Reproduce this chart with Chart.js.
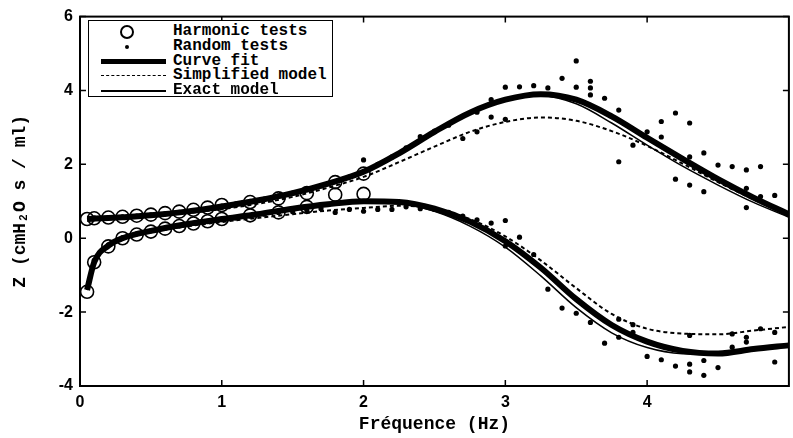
<!DOCTYPE html>
<html>
<head>
<meta charset="utf-8">
<script src="https://cdn.jsdelivr.net/npm/chart.js@4.4.1/dist/chart.umd.min.js"></script>
<style>
  html, body { margin: 0; padding: 0; overflow: hidden; background: #fff; }
  .wrap { position: relative; width: 797px; height: 438px; }
  .legend {
    position: absolute; left: 88px; top: 20px; width: 243px; height: 75px;
    border: 1.5px solid #000; background: #fff;
    font: bold 16px 'Liberation Mono', 'DejaVu Sans Mono', monospace; color: #000;
  }
  .legend .row { position: absolute; left: 0; width: 100%; height: 15px; line-height: 15px; }
  .legend .txt { position: absolute; left: 84px; top: 0; white-space: pre; }
  .legend .sym { position: absolute; }
</style>
</head>
<body>
<div class="wrap">
  <canvas id="myChart" width="797" height="438"></canvas>
  <div class="legend" id="legend"></div>
</div>
<script>
// axis ticks
var xTicks = [0, 1, 2, 3, 4];
var yTicks = [-4, -2, 0, 2, 4, 6];

// model curves
var modelX      = [0.05, 0.1, 0.2, 0.3, 0.5, 0.75, 1, 1.25, 1.5, 1.75, 2, 2.25, 2.5, 2.75, 3, 3.25, 3.5, 3.75, 4, 4.25, 4.5, 4.75, 5];
var fitUpper    = [0.52, 0.53, 0.55, 0.57, 0.62, 0.72, 0.86, 1.02, 1.22, 1.48, 1.8, 2.3, 2.88, 3.4, 3.75, 3.9, 3.75, 3.3, 2.72, 2.15, 1.6, 1.1, 0.65];
var simpUpper   = [0.52, 0.53, 0.54, 0.56, 0.6, 0.68, 0.79, 0.93, 1.12, 1.37, 1.66, 2.06, 2.48, 2.88, 3.15, 3.27, 3.18, 2.9, 2.5, 2.02, 1.52, 1.05, 0.62];
var exactUpper  = [0.52, 0.53, 0.55, 0.57, 0.62, 0.71, 0.85, 1.01, 1.2, 1.46, 1.77, 2.27, 2.84, 3.36, 3.72, 3.86, 3.64, 3.12, 2.52, 1.95, 1.44, 0.97, 0.57];
var fitLower    = [-1.4, -0.65, -0.2, 0.0, 0.2, 0.38, 0.52, 0.65, 0.8, 0.92, 1.0, 0.98, 0.8, 0.45, -0.08, -0.8, -1.65, -2.35, -2.8, -3.05, -3.12, -3.0, -2.9];
var simpLower   = [-1.4, -0.66, -0.22, -0.02, 0.17, 0.32, 0.44, 0.55, 0.65, 0.75, 0.82, 0.88, 0.8, 0.52, 0.05, -0.6, -1.35, -2.05, -2.45, -2.58, -2.6, -2.5, -2.4];
var exactLower  = [-1.4, -0.65, -0.2, 0.0, 0.2, 0.37, 0.51, 0.64, 0.79, 0.91, 0.99, 0.95, 0.73, 0.33, -0.24, -1.02, -1.88, -2.56, -2.96, -3.13, -3.15, -3.02, -2.91];

// harmonic tests (circles)
var harmX     = [0.05, 0.1, 0.2, 0.3, 0.4, 0.5, 0.6, 0.7, 0.8, 0.9, 1.0, 1.2, 1.4, 1.6, 1.8, 2.0];
var harmUpper = [0.52, 0.54, 0.56, 0.58, 0.61, 0.64, 0.68, 0.72, 0.77, 0.83, 0.9, 0.98, 1.08, 1.22, 1.52, 1.75];
var harmLower = [-1.45, -0.65, -0.22, 0.0, 0.1, 0.18, 0.26, 0.33, 0.4, 0.46, 0.52, 0.62, 0.7, 0.85, 1.18, 1.2];

// random tests (dots)
var randomX = [0.1, 0.2, 0.3, 0.4, 0.5, 0.6, 0.7, 0.8, 0.9, 1.0, 1.1, 1.2, 1.3, 1.4, 1.5, 1.6, 1.7, 2.0, 1.9, 2.1, 2.2, 2.3, 2.4, 2.5, 2.6, 2.7, 2.8, 2.8, 2.9, 2.9,
  3.0, 3.0, 3.1, 3.2, 3.3, 3.4, 3.5, 3.5, 3.6, 3.6, 3.6, 3.7, 3.8, 3.8, 3.9, 4.0, 4.1, 4.1, 4.2, 4.2, 4.3, 4.3, 4.3, 4.4, 4.4, 4.5, 4.6, 4.7, 4.7, 4.7, 4.8, 4.8, 4.9,
  0.1, 0.2, 0.3, 0.4, 0.5, 0.6, 0.7, 0.8, 0.9, 1.0, 1.1, 1.2, 1.3, 1.4, 1.5, 1.6, 1.7, 1.8, 1.9, 2.0, 2.1, 2.2, 2.3, 2.4, 2.5, 2.6, 2.7, 2.8, 2.9,
  3.0, 3.0, 3.1, 3.2, 3.3, 3.4, 3.5, 3.6, 3.7, 3.8, 3.8, 3.9, 3.9, 4.0, 4.1, 4.2, 4.3, 4.3, 4.3, 4.4, 4.4, 4.5, 4.6, 4.6, 4.7, 4.7, 4.8, 4.9, 4.9];
var randomY = [0.55, 0.56, 0.58, 0.6, 0.63, 0.66, 0.7, 0.75, 0.8, 0.87, 0.93, 1.0, 1.06, 1.15, 1.22, 1.32, 1.42, 2.12, 1.66, 2.0, 2.2, 2.45, 2.75, 2.9, 3.06, 2.7, 3.41, 2.88, 3.75, 3.28,
  4.09, 3.22, 4.1, 4.13, 4.07, 4.33, 4.8, 4.09, 4.25, 4.07, 3.88, 3.79, 3.47, 2.07, 2.52, 2.88, 3.16, 2.74, 3.39, 1.6, 3.12, 2.2, 1.44, 2.31, 1.26, 1.98, 1.94, 1.85, 1.35, 0.83, 1.94, 1.13, 1.16,
  -0.6, -0.18, 0.02, 0.12, 0.2, 0.27, 0.33, 0.4, 0.45, 0.5, 0.55, 0.6, 0.65, 0.7, 0.72, 0.75, 0.8, 0.7, 0.78, 0.73, 0.78, 0.78, 0.85, 0.8, 0.78, 0.7, 0.6, 0.5, 0.41,
  0.48, -0.21, 0.03, -0.44, -1.38, -1.89, -2.03, -2.28, -2.84, -2.19, -2.68, -2.34, -2.55, -3.2, -3.29, -3.46, -3.41, -3.62, -2.63, -3.31, -3.71, -3.5, -2.59, -2.95, -2.68, -2.81, -2.45, -2.55, -3.35];

function pts(xs, ys) {
    return xs.map(function (x, i) { return { x: x, y: ys[i] }; });
}

var monoFont = "'Liberation Mono', 'DejaVu Sans Mono', monospace";
var sansFont = "'Liberation Sans', Arial, sans-serif";

// box + inward tick marks, matlab style
var frame = {
    id: 'frame',
    afterDraw: function (chart) {
        var ctx = chart.ctx, a = chart.chartArea;
        var xs = chart.scales.x, ys = chart.scales.y;
        ctx.save();
        ctx.strokeStyle = '#000';
        ctx.lineWidth = 2;
        ctx.strokeRect(a.left, a.top, a.right - a.left, a.bottom - a.top);
        ctx.lineWidth = 1.5;
        ctx.beginPath();
        xTicks.forEach(function (v) {
            var p = xs.getPixelForValue(v);
            ctx.moveTo(p, a.bottom); ctx.lineTo(p, a.bottom - 6);
            ctx.moveTo(p, a.top); ctx.lineTo(p, a.top + 6);
        });
        yTicks.forEach(function (v) {
            var p = ys.getPixelForValue(v);
            ctx.moveTo(a.left, p); ctx.lineTo(a.left + 6, p);
            ctx.moveTo(a.right, p); ctx.lineTo(a.right - 6, p);
        });
        ctx.stroke();
        ctx.restore();
    }
};

function lineSet(label, ys, width, dash) {
    return {
        label: label,
        data: pts(modelX, ys),
        showLine: true,
        borderColor: '#000',
        borderWidth: width,
        borderDash: dash || [],
        pointRadius: 0,
        cubicInterpolationMode: 'monotone',
        fill: false
    };
}

var ctx = document.getElementById('myChart');

var myChart = new Chart(ctx, {
    type: 'scatter',
    data: {
        datasets: [
            {
                label: 'Harmonic tests',
                data: pts(harmX, harmUpper).concat(pts(harmX, harmLower)),
                pointStyle: 'circle',
                pointRadius: 6.5,
                borderWidth: 1.6,
                borderColor: '#000',
                backgroundColor: 'rgba(0,0,0,0)'
            },
            {
                label: 'Random tests',
                data: pts(randomX, randomY),
                pointRadius: 2.6,
                borderWidth: 0,
                backgroundColor: '#000'
            },
            lineSet('Exact model', exactUpper, 1.5),
            lineSet('Exact model', exactLower, 1.5),
            lineSet('Simplified model', simpUpper, 2, [4, 3]),
            lineSet('Simplified model', simpLower, 2, [4, 3]),
            lineSet('Curve fit', fitUpper, 6),
            lineSet('Curve fit', fitLower, 6)
        ]
    },
    options: {
        responsive: false,
        animation: false,
        devicePixelRatio: 1,
        layout: { padding: { left: 0, top: 14, right: 2, bottom: 0 } },
        plugins: { legend: { display: false }, tooltip: { enabled: false } },
        scales: {
            x: {
                type: 'linear', min: 0, max: 5,
                afterBuildTicks: function (s) { s.ticks = xTicks.map(function (v) { return { value: v }; }); },
                afterFit: function (s) { s.height = 52; },
                grid: { display: false, drawTicks: false },
                border: { display: false },
                ticks: { color: '#000', padding: 7, font: { family: sansFont, size: 16, weight: 'bold' } },
                title: { display: true, text: 'Fréquence (Hz)', color: '#000', padding: { top: 0, bottom: 3 },
                         font: { family: monoFont, size: 18, weight: 'bold' } }
            },
            y: {
                type: 'linear', min: -4, max: 6,
                afterBuildTicks: function (s) { s.ticks = yTicks.map(function (v) { return { value: v }; }); },
                afterFit: function (s) { s.width = 80; },
                grid: { display: false, drawTicks: false },
                border: { display: false },
                ticks: { color: '#000', padding: 7, font: { family: sansFont, size: 16, weight: 'bold' } },
                title: { display: true, text: 'Z (cmH\u2082O s / ml)', color: '#000', padding: { top: 10, bottom: 0 },
                         font: { family: monoFont, size: 18, weight: 'bold' } }
            }
        }
    },
    plugins: [frame]
});

// legend box inside the plot, like the original figure
var legendItems = [
    { label: myChart.data.datasets[0].label, kind: 'circle' },
    { label: myChart.data.datasets[1].label, kind: 'dot' },
    { label: myChart.data.datasets[6].label, kind: 'thick' },
    { label: myChart.data.datasets[4].label, kind: 'dash' },
    { label: myChart.data.datasets[2].label, kind: 'solid' }
];
var legend = document.getElementById('legend');
legendItems.forEach(function (item, i) {
    var row = document.createElement('div');
    row.className = 'row';
    row.style.top = (3 + i * 14.8) + 'px';
    var sym = document.createElement('span');
    sym.className = 'sym';
    if (item.kind === 'circle') {
        sym.style.cssText = 'left:31px;top:1px;width:10px;height:10px;border:2px solid #000;border-radius:50%;';
    } else if (item.kind === 'dot') {
        sym.style.cssText = 'left:36px;top:6px;width:4px;height:4px;background:#000;border-radius:50%;';
    } else if (item.kind === 'thick') {
        sym.style.cssText = 'left:12px;top:5px;width:65px;height:5px;background:#000;';
    } else if (item.kind === 'dash') {
        sym.style.cssText = 'left:12px;top:7px;width:65px;height:0;border-top:1.5px dashed #000;';
    } else {
        sym.style.cssText = 'left:12px;top:7px;width:65px;height:1.5px;background:#000;';
    }
    var txt = document.createElement('span');
    txt.className = 'txt';
    txt.textContent = item.label;
    row.appendChild(sym);
    row.appendChild(txt);
    legend.appendChild(row);
});
</script>
</body>
</html>
